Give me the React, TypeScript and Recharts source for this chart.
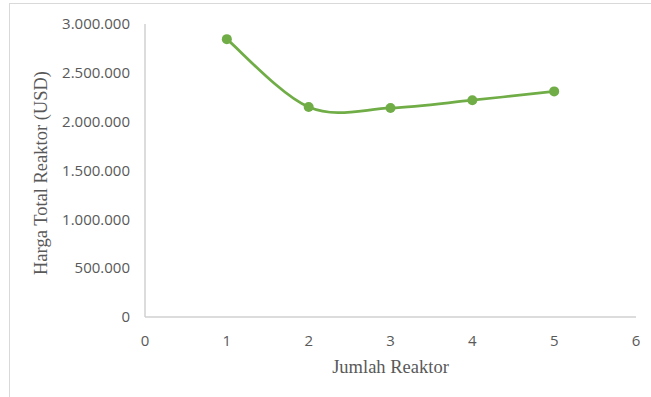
import React from 'react';
import { LineChart, Line, XAxis, YAxis, Label } from 'recharts';

const reactorCounts = [1, 2, 3, 4, 5];
const totalPrices = [2845000, 2150000, 2140000, 2220000, 2310000];
const xTicks = [0, 1, 2, 3, 4, 5, 6];
const yTicks = [0, 500000, 1000000, 1500000, 2000000, 2500000, 3000000];

const data = reactorCounts.map((n, i) => ({ x: n, price: totalPrices[i] }));

const GREEN = '#70AD47';
const AXIS_GRAY = '#d0d0d0';
const TEXT_GRAY = '#595959';

// thousands separator with dots, e.g. 2.500.000
const formatPrice = (v: number) => String(v).replace(/\B(?=(\d{3})+(?!\d))/g, '.');

// Catmull-Rom style bezier smoothing (same feel as spreadsheet "smoothed line")
function smoothCurve(context: any) {
  let pts: [number, number][] = [];
  return {
    areaStart() {},
    areaEnd() {},
    lineStart() {
      pts = [];
    },
    point(x: number, y: number) {
      pts.push([+x, +y]);
    },
    lineEnd() {
      if (!pts.length) return;
      context.moveTo(pts[0][0], pts[0][1]);
      for (let i = 0; i < pts.length - 1; i++) {
        const p0 = pts[Math.max(i - 1, 0)];
        const p1 = pts[i];
        const p2 = pts[i + 1];
        const p3 = pts[Math.min(i + 2, pts.length - 1)];
        context.bezierCurveTo(
          p1[0] + (p2[0] - p0[0]) / 6,
          p1[1] + (p2[1] - p0[1]) / 6,
          p2[0] - (p3[0] - p1[0]) / 6,
          p2[1] - (p3[1] - p1[1]) / 6,
          p2[0],
          p2[1]
        );
      }
    },
  };
}

const tickStyle = { fill: TEXT_GRAY, fontSize: 15, fontFamily: '"Open Sans", sans-serif' };
const titleFont = '"Liberation Serif", "Times New Roman", serif';

export default function App() {
  return (
    <div style={{ position: 'absolute', left: 0, top: 0, width: 651, height: 397, overflow: 'hidden', background: '#fff' }}>
      <div
        style={{
          position: 'absolute',
          left: 9,
          top: 3,
          width: 700,
          height: 500,
          border: '1.5px solid #d9d9d9',
        }}
      />
      <LineChart
        width={651}
        height={397}
        data={data}
        margin={{ top: 24, right: 15, left: 0, bottom: 0 }}
        style={{ position: 'absolute', left: 0, top: 0 }}
      >
        <XAxis
          dataKey="x"
          type="number"
          domain={[0, 6]}
          ticks={xTicks}
          height={80}
          tickLine={false}
          tickSize={0}
          tickMargin={18}
          axisLine={{ stroke: AXIS_GRAY, strokeWidth: 1.5 }}
          tick={tickStyle}
        >
          <Label
            value="Jumlah Reaktor"
            position="insideBottom"
            offset={24}
            style={{ fill: TEXT_GRAY, fontSize: 18.5, fontFamily: titleFont }}
          />
        </XAxis>
        <YAxis
          type="number"
          domain={[0, 3000000]}
          ticks={yTicks}
          width={145}
          tickLine={false}
          tickSize={0}
          tickMargin={15}
          axisLine={{ stroke: AXIS_GRAY, strokeWidth: 1.5 }}
          tick={tickStyle}
          tickFormatter={formatPrice}
        >
          <Label
            content={() => (
              <text
                x={47}
                y={173}
                transform="rotate(-90 47 173)"
                textAnchor="middle"
                fill={TEXT_GRAY}
                fontSize={18.5}
                fontFamily={titleFont}
              >
                Harga Total Reaktor (USD)
              </text>
            )}
          />
        </YAxis>
        <Line
          dataKey="price"
          type={smoothCurve as any}
          stroke={GREEN}
          strokeWidth={2.75}
          dot={{ r: 5, fill: GREEN, stroke: GREEN, strokeWidth: 0 }}
          activeDot={false}
          isAnimationActive={false}
        />
      </LineChart>
    </div>
  );
}
